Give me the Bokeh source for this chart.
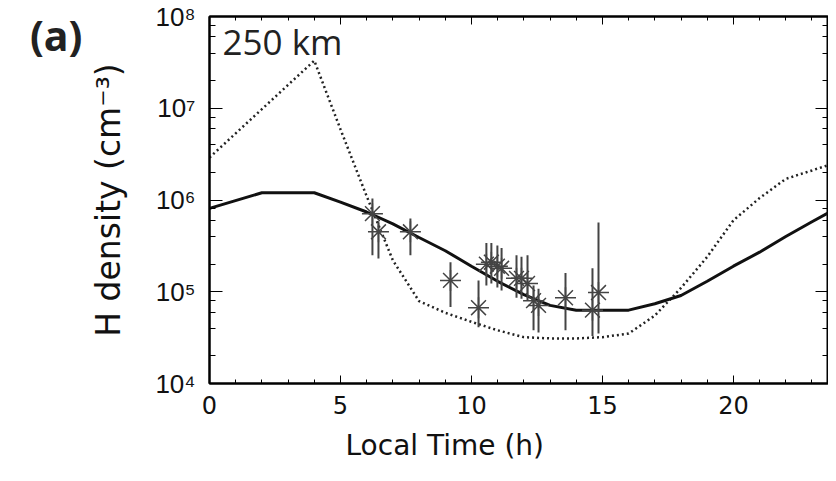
from bokeh.plotting import figure
from bokeh.models import (Range1d, LinearAxis, LogAxis, SingleIntervalTicker, LogTicker, FixedTicker,
                          ColumnDataSource, Label, Title, CustomJSTickFormatter)
from bokeh.embed import file_html
from bokeh.resources import INLINE

# ---- data ----
model_hours = [0, 2, 4, 5, 6, 7, 8, 9, 10, 11, 12, 13, 14, 15, 16, 17, 18, 19, 20, 21, 22, 23, 24]
model_solid = [8.1e5, 1.2e6, 1.2e6, 9.5e5, 7.4e5, 5.5e5, 3.9e5, 2.8e5, 1.9e5, 1.3e5, 9.3e4, 7.1e4,
               6.3e4, 6.3e4, 6.3e4, 7.4e4, 9.1e4, 1.3e5, 1.9e5, 2.7e5, 4.0e5, 5.8e5, 8.3e5]

dotted_hours = [0, 4, 5, 6, 7, 8, 9, 10, 11, 12, 13, 14, 15, 16, 17, 18, 19, 20, 21, 22, 23, 24]
model_dotted = [2.9e6, 3.3e7, 5.9e6, 1.1e6, 2.2e5, 7.9e4, 5.9e4, 4.7e4, 3.8e4, 3.2e4, 3.1e4, 3.1e4,
                3.2e4, 3.5e4, 5.5e4, 1.1e5, 2.4e5, 6.0e5, 1.05e6, 1.7e6, 2.1e6, 2.6e6]

obs_hours = [6.22, 6.45, 7.67, 9.20, 10.27, 10.57, 10.76, 10.99, 11.15, 11.72, 11.91, 12.14,
             12.37, 12.56, 13.59, 14.62, 14.85]
obs_density = [7.1e5, 4.5e5, 4.5e5, 1.33e5, 6.7e4, 2.0e5, 2.1e5, 1.9e5, 1.8e5, 1.4e5, 1.4e5, 1.23e5,
               8.0e4, 7.1e4, 8.6e4, 6.3e4, 9.8e4]
obs_low = [2.5e5, 2.3e5, 2.5e5, 6.8e4, 4.1e4, 1.17e5, 1.23e5, 1.11e5, 1.03e5, 8.6e4, 8.4e4, 8.0e4,
           3.8e4, 3.6e4, 3.8e4, 3.3e4, 3.5e4]
obs_high = [1.04e6, 5.7e5, 6.3e5, 2.1e5, 1.33e5, 3.4e5, 3.4e5, 3.2e5, 3.0e5, 2.5e5, 2.4e5, 2.5e5,
            1.17e5, 1.08e5, 1.6e5, 1.8e5, 5.7e5]

x_ticks_major = 5
y_labels = {1e4: "10\u2074", 1e5: "10\u2075", 1e6: "10\u2076", 1e7: "10\u2077", 1e8: "10\u2078"}

p = figure(width=828, height=481, output_backend="svg", toolbar_location=None,
           y_axis_type="log", x_range=Range1d(0, 23.63), y_range=Range1d(1e4, 1e8),
           min_border_left=209, min_border_right=0, min_border_top=16, min_border_bottom=98)
p.grid.visible = False
p.outline_line_color = "black"
p.outline_line_width = 2
p.background_fill_color = "white"
p.border_fill_color = "white"

# model curves
p.line(dotted_hours, model_dotted, line_color="#222222", line_width=2.5, line_dash="2 3")
p.line(model_hours, model_solid, line_color="#111111", line_width=3)

# observations
src = ColumnDataSource(dict(x=obs_hours, y=obs_density, lo=obs_low, hi=obs_high))
p.segment(x0="x", y0="lo", x1="x", y1="hi", source=src, line_color="#444444", line_width=2)
p.scatter(x="x", y="y", source=src, marker="asterisk", size=21, line_color="#444444", line_width=1.5)

# axes styling
def style(ax):
    ax.axis_line_color = "black"
    ax.axis_line_width = 2
    ax.major_tick_line_color = "black"
    ax.minor_tick_line_color = "black"
    ax.major_tick_out = 0
    ax.minor_tick_out = 0

blank = CustomJSTickFormatter(code="return '';")

xa = p.xaxis[0]
xa.ticker = SingleIntervalTicker(interval=x_ticks_major, num_minor_ticks=5)
style(xa)
xa.major_tick_in = 8
xa.minor_tick_in = 4
xa.major_label_text_font = "DejaVu Sans"
xa.major_label_text_font_size = "24px"
xa.major_label_text_color = "#111111"
xa.major_label_standoff = 12

ya = p.yaxis[0]
ya.ticker = LogTicker()
style(ya)
ya.major_tick_in = 13
ya.minor_tick_in = 6
ya.major_label_overrides = y_labels
ya.major_label_text_font = "Liberation Sans"
ya.major_label_text_font_size = "26px"
ya.major_label_text_color = "#111111"
ya.major_label_standoff = 14
ya.axis_label = "H density (cm\u207B\u00B3)"
ya.axis_label_text_font = "DejaVu Sans"
ya.axis_label_text_font_style = "normal"
ya.axis_label_text_font_size = "33px"
ya.axis_label_text_color = "#111111"
ya.axis_label_standoff = 24

# panel tag "(a)" carried by a bare extra left axis
tag = LinearAxis(ticker=FixedTicker(ticks=[]), formatter=blank)
tag.axis_line_color = None
tag.major_tick_in = 0
tag.major_tick_out = 0
tag.minor_tick_in = 0
tag.minor_tick_out = 0
tag.axis_label = "\n(a)"
tag.axis_label_orientation = "horizontal"
tag.axis_label_align = "end"
tag.axis_label_text_font = "Open Sans"
tag.axis_label_text_font_style = "bold"
tag.axis_label_text_font_size = "41px"
tag.axis_label_text_line_height = 0.65
tag.axis_label_text_color = "#222222"
tag.axis_label_standoff = 4
p.add_layout(tag, "left")

top = LinearAxis(ticker=SingleIntervalTicker(interval=x_ticks_major, num_minor_ticks=5),
                 formatter=blank)
style(top)
top.major_tick_in = 8
top.minor_tick_in = 4
top.major_label_standoff = 0
p.add_layout(top, "above")

right = LogAxis(ticker=LogTicker(), formatter=blank)
style(right)
right.major_tick_in = 13
right.minor_tick_in = 6
right.major_label_standoff = 0
p.add_layout(right, "right")

p.add_layout(Title(text="Local Time (h)", align="left", offset=136, standoff=20,
                   text_font="DejaVu Sans", text_font_style="normal", text_font_size="28px",
                   text_color="#111111"), "below")

p.add_layout(Label(x=0.5, y=5.3e7, text="250 km", text_font="Open Sans", text_font_size="35px",
                   text_color="#222222", text_baseline="alphabetic"))

open("out.html", "w").write(file_html(p, INLINE))
